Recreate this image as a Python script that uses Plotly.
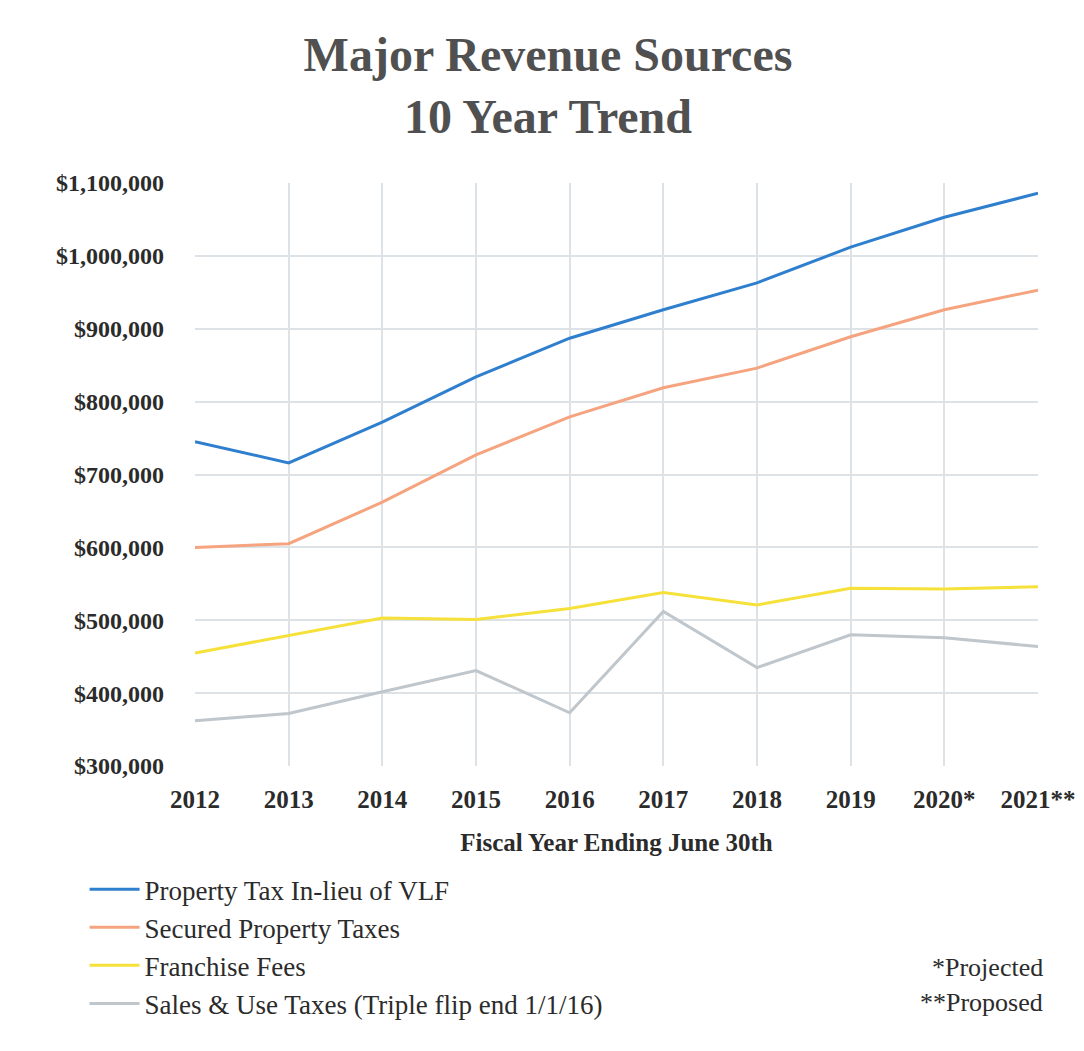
import plotly.graph_objects as go

years = ["2012", "2013", "2014", "2015", "2016", "2017", "2018", "2019", "2020*", "2021**"]

vlf_in_lieu = [745000, 716000, 772000, 834000, 887000, 926000, 963000, 1012000, 1053000, 1086000]
secured_property = [600000, 605000, 662000, 727000, 779000, 819000, 846000, 889000, 926000, 953000]
franchise_fees = [455000, 479000, 503000, 501000, 516000, 538000, 521000, 544000, 543000, 546000]
sales_use = [362000, 372000, 402000, 431000, 373000, 512000, 435000, 480000, 476000, 464000]

series = [
    ("Property Tax In-lieu of VLF", vlf_in_lieu, "#2f7fcf"),
    ("Secured Property Taxes", secured_property, "#f5a47f"),
    ("Franchise Fees", franchise_fees, "#f6e13a"),
    ("Sales & Use Taxes (Triple flip end 1/1/16)", sales_use, "#bfc6cc"),
]

serif = "Liberation Serif, DejaVu Serif, serif"
ink = "#2b2b2b"

fig = go.Figure()
for name, values, color in series:
    fig.add_trace(go.Scatter(
        x=years, y=values, name=name, mode="lines",
        line=dict(color=color, width=3),
        legendgroup=name,
    ))

fig.update_xaxes(
    type="category",
    range=[0, 9],
    showgrid=True, gridcolor="#dde2e7", gridwidth=1.5,
    zeroline=False, showline=False,
    tickfont=dict(family=serif, size=25, color=ink, weight="bold"),
    ticklabelstandoff=16,
    title=dict(text="<b>Fiscal Year Ending June 30th</b>",
               font=dict(family=serif, size=25, color=ink), standoff=21),
)
fig.update_yaxes(
    range=[300000, 1100000],
    dtick=100000,
    tickformat="$,.0f",
    showgrid=True, gridcolor="#dde2e7", gridwidth=1.5,
    zeroline=False, showline=False,
    tickfont=dict(family=serif, size=24, color=ink, weight="bold"),
    ticklabelstandoff=30,
)

fig.add_annotation(text="*Projected", xref="paper", yref="paper", x=1.008, y=-0.346,
                   xanchor="right", yanchor="middle", showarrow=False,
                   font=dict(family=serif, size=26, color=ink))
fig.add_annotation(text="**Proposed", xref="paper", yref="paper", x=1.008, y=-0.405,
                   xanchor="right", yanchor="middle", showarrow=False,
                   font=dict(family=serif, size=26, color=ink))

fig.update_layout(
    width=1080, height=1043,
    margin=dict(l=187, r=47, t=175, b=285),
    paper_bgcolor="white", plot_bgcolor="white",
    title=dict(text="<b>Major Revenue Sources<br>10 Year Trend</b>",
               x=0.5, xanchor="center", y=0.94, yanchor="top",
               font=dict(family=serif, size=48, color="#505050")),
    showlegend=True,
    legend=dict(
        orientation="v", x=-0.131, xanchor="left", y=-0.17, yanchor="top",
        font=dict(family=serif, size=27, color=ink),
        tracegroupgap=0, itemwidth=50,
        bgcolor="rgba(0,0,0,0)",
    ),
)

fig.write_html("out.html")
